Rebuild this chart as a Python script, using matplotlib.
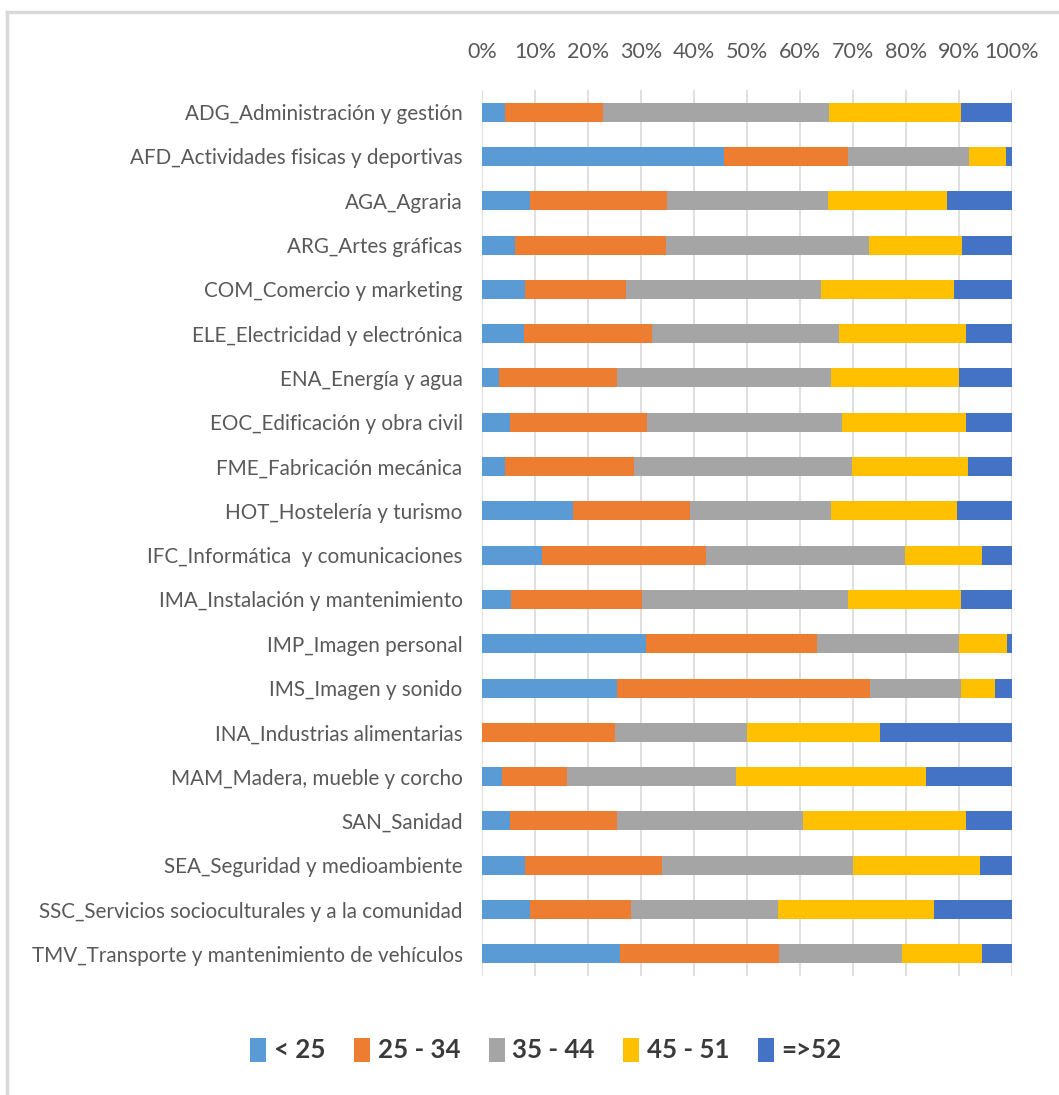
import numpy as np
import matplotlib
matplotlib.use("Agg")
import matplotlib.pyplot as plt
from matplotlib.lines import Line2D

plt.rcParams['font.family'] = ['Lato', 'DejaVu Sans']

categories = [
    "ADG_Administración y gestión",
    "AFD_Actividades fisicas y deportivas",
    "AGA_Agraria",
    "ARG_Artes gráficas",
    "COM_Comercio y marketing",
    "ELE_Electricidad y electrónica",
    "ENA_Energía y agua",
    "EOC_Edificación y obra civil",
    "FME_Fabricación mecánica",
    "HOT_Hostelería y turismo",
    "IFC_Informática  y comunicaciones",
    "IMA_Instalación y mantenimiento",
    "IMP_Imagen personal",
    "IMS_Imagen y sonido",
    "INA_Industrias alimentarias",
    "MAM_Madera, mueble y corcho",
    "SAN_Sanidad",
    "SEA_Seguridad y medioambiente",
    "SSC_Servicios socioculturales y a la comunidad",
    "TMV_Transporte y mantenimiento de vehículos",
]

series_names = ["< 25", "25 - 34", "35 - 44", "45 - 51", "=>52"]
colors = ["#5B9BD5", "#ED7D31", "#A5A5A5", "#FFC000", "#4472C4"]

menos_25 = [4.4, 45.7, 9.0, 6.3, 8.2, 7.9, 3.3, 5.2, 4.4, 17.1,
            11.4, 5.5, 30.9, 25.5, 0.0, 3.8, 5.2, 8.2, 9.0, 26.0]
de_25_34 = [18.4, 23.3, 25.9, 28.4, 18.9, 24.1, 22.2, 26.0, 24.3, 22.2,
            30.9, 24.6, 32.4, 47.8, 25.0, 12.2, 20.3, 25.7, 19.2, 30.0]
de_35_44 = [42.7, 22.9, 30.3, 38.3, 36.8, 35.3, 40.3, 36.7, 41.1, 26.5,
            37.5, 38.9, 26.7, 17.1, 25.0, 31.9, 35.1, 36.1, 27.6, 23.3]
de_45_51 = [24.9, 6.9, 22.5, 17.6, 25.1, 24.1, 24.2, 23.5, 21.9, 23.8,
            14.6, 21.4, 9.1, 6.4, 25.0, 35.9, 30.8, 23.9, 29.4, 15.1]
mas_52 = [9.6, 1.2, 12.3, 9.4, 11.0, 8.6, 10.0, 8.6, 8.3, 10.4,
          5.6, 9.6, 0.9, 3.2, 25.0, 16.2, 8.6, 6.1, 14.8, 5.6]

data = np.array([menos_25, de_25_34, de_35_44, de_45_51, mas_52])
data = data / data.sum(axis=0) * 100

fig = plt.figure(figsize=(10.59, 10.95), dpi=100)
ax = fig.add_axes([482 / 1059, 1 - 976 / 1095, 530 / 1059, 886 / 1095])

y = np.arange(len(categories))
left = np.zeros(len(categories))
for vals, name, col in zip(data, series_names, colors):
    ax.barh(y, vals, left=left, height=0.43, color=col, label=name, zorder=3)
    left += vals

ax.set_xlim(0, 100)
ax.set_ylim(len(categories) - 0.5, -0.5)
ax.set_xticks(np.arange(0, 101, 10))
ax.set_xticklabels([f"{v}%" for v in range(0, 101, 10)])
ax.xaxis.tick_top()
ax.tick_params(axis='x', length=0, pad=20, labelsize=15.5, colors='#595959')
ax.set_yticks(y)
ax.set_yticklabels(categories)
ax.tick_params(axis='y', length=0, pad=14, labelsize=14.9, colors='#595959')
ax.grid(axis='x', color='#D9D9D9', lw=1.2, zorder=0)
for s in ax.spines.values():
    s.set_visible(False)

# border of the chart area
fig.add_artist(Line2D([7 / 1059, 7 / 1059], [0, 1 - 12 / 1095], color='#D9D9D9', lw=2.5))
fig.add_artist(Line2D([7 / 1059, 1], [1 - 12 / 1095, 1 - 12 / 1095], color='#D9D9D9', lw=2.5))

handles, labels = ax.get_legend_handles_labels()
fig.legend(handles, labels, loc='center', bbox_to_anchor=(546 / 1059, 1 - 1050 / 1095),
           ncol=5, frameon=False, handlelength=0.62, handleheight=1.05,
           handletextpad=0.3, columnspacing=1.1,
           prop={'size': 18.6, 'weight': 'bold'}, labelcolor='#3A3A3A')

fig.savefig("out.png", dpi=100)
